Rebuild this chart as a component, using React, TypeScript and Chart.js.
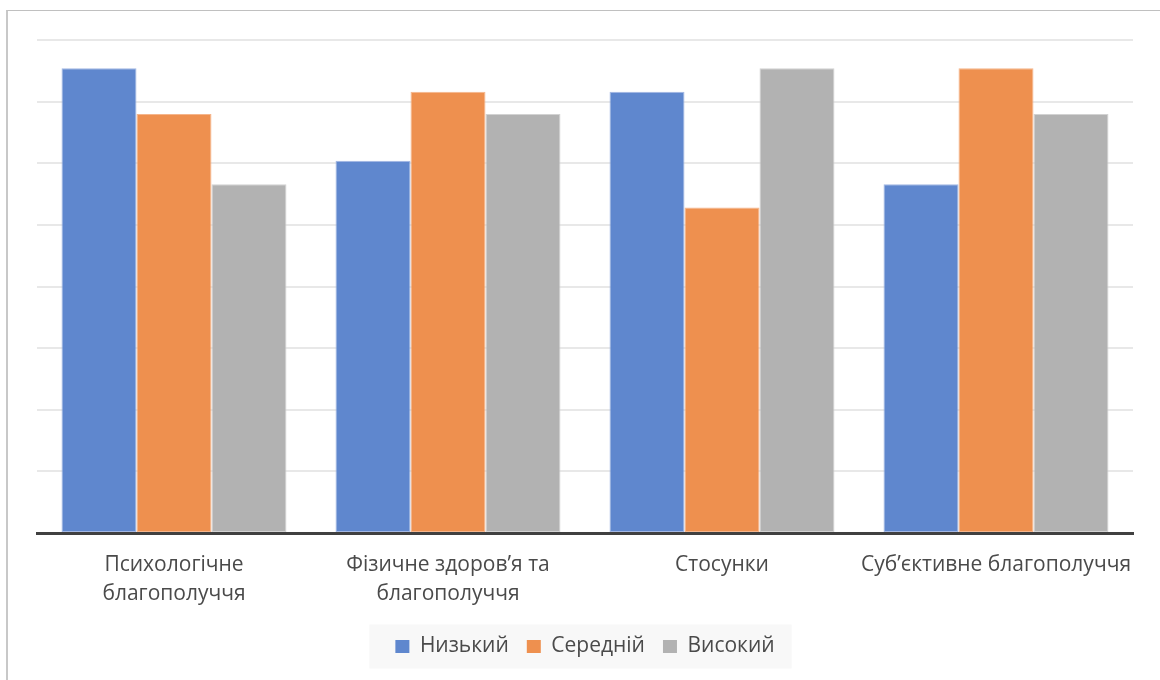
import React, { useEffect, useRef } from "react";
import { Chart, registerables } from "chart.js";

Chart.register(...registerables);

// Category labels (multi-line where the label wraps)
const categories: (string | string[])[] = [
  ["Психологічне", "благополуччя"],
  ["Фізичне здоров’я та", "благополуччя"],
  "Стосунки",
  "Суб’єктивне благополуччя",
];

const seriesNames = ["Низький", "Середній", "Високий"];

// Share of respondents at each level, %
const lowValues = [37.7, 30.2, 35.8, 28.3];
const midValues = [34.0, 35.8, 26.4, 37.7];
const highValues = [28.3, 34.0, 37.7, 34.0];

const axisMax = 40;
const axisStep = 5;

const fillColors = ["#5f87ce", "#ee904f", "#b2b2b2"];
const edgeColors = ["#a2b7e3", "#f5b58b", "#d2d2d2"];

const FONT = "'Open Sans', 'Noto Sans', sans-serif";
const TEXT = "#4a4a4a";

// Light panel behind the legend entries
const legendBackdrop = {
  id: "legendBackdrop",
  beforeDraw(chart: any) {
    const legend = chart.legend;
    const boxes = legend && legend.legendHitBoxes;
    if (!boxes || !boxes.length) return;
    const first = boxes[0];
    const last = boxes[boxes.length - 1];
    const cy = first.top + first.height / 2;
    const left = first.left - 26;
    const right = last.left + last.width + 17;
    const ctx = chart.ctx;
    ctx.save();
    ctx.fillStyle = "#f8f8f8";
    ctx.fillRect(left, cy - 22, right - left, 44);
    ctx.restore();
  },
};

export default function App() {
  const canvasRef = useRef<HTMLCanvasElement | null>(null);

  useEffect(() => {
    if (!canvasRef.current) return;
    const series = [lowValues, midValues, highValues];
    const chart = new Chart(canvasRef.current, {
      type: "bar",
      data: {
        labels: categories,
        datasets: series.map((values, i) => ({
          label: seriesNames[i],
          data: values,
          backgroundColor: fillColors[i],
          borderColor: edgeColors[i],
          borderWidth: 1,
          borderSkipped: false,
          categoryPercentage: 0.821,
          barPercentage: 1,
        })),
      },
      options: {
        animation: false,
        responsive: false,
        maintainAspectRatio: false,
        devicePixelRatio: 1,
        layout: { padding: { left: 37, right: 27, top: 40, bottom: 13 } },
        font: { family: FONT },
        plugins: {
          tooltip: { enabled: false },
          legend: {
            position: "bottom",
            labels: {
              color: TEXT,
              font: { family: FONT, size: 21 },
              boxWidth: 14,
              boxHeight: 13,
              padding: 18,
              generateLabels(chart: any) {
                const items = Chart.defaults.plugins.legend.labels.generateLabels(chart);
                return items.map((it: any) => ({ ...it, lineWidth: 0, strokeStyle: "transparent" }));
              },
            },
          },
        },
        scales: {
          x: {
            z: 1,
            grid: { display: false, drawTicks: false },
            border: { display: true, color: "#404040", width: 3 },
            ticks: {
              color: TEXT,
              font: { family: FONT, size: 21, lineHeight: 1.35 },
              padding: 18,
              maxRotation: 0,
              autoSkip: false,
            },
            afterFit(scale: any) {
              scale.height = 85;
            },
          },
          y: {
            min: 0,
            max: axisMax,
            ticks: { display: false, stepSize: axisStep },
            grid: { color: "#e8e8e8", lineWidth: 2, drawTicks: false },
            border: { display: false },
          },
        },
      },
      plugins: [legendBackdrop],
    });
    return () => chart.destroy();
  }, []);

  return (
    <div style={{ position: "fixed", left: 0, top: 0, width: 1160, height: 680, background: "#fff" }}>
      <div
        style={{
          position: "absolute",
          left: 6,
          top: 10,
          width: 1200,
          height: 700,
          borderTop: "1px solid #c0c0c0",
          borderLeft: "2px solid #c8c8c8",
        }}
      />
      <canvas
        ref={canvasRef}
        width={1160}
        height={680}
        style={{ position: "absolute", left: 0, top: 0, width: 1160, height: 680 }}
      />
    </div>
  );
}
